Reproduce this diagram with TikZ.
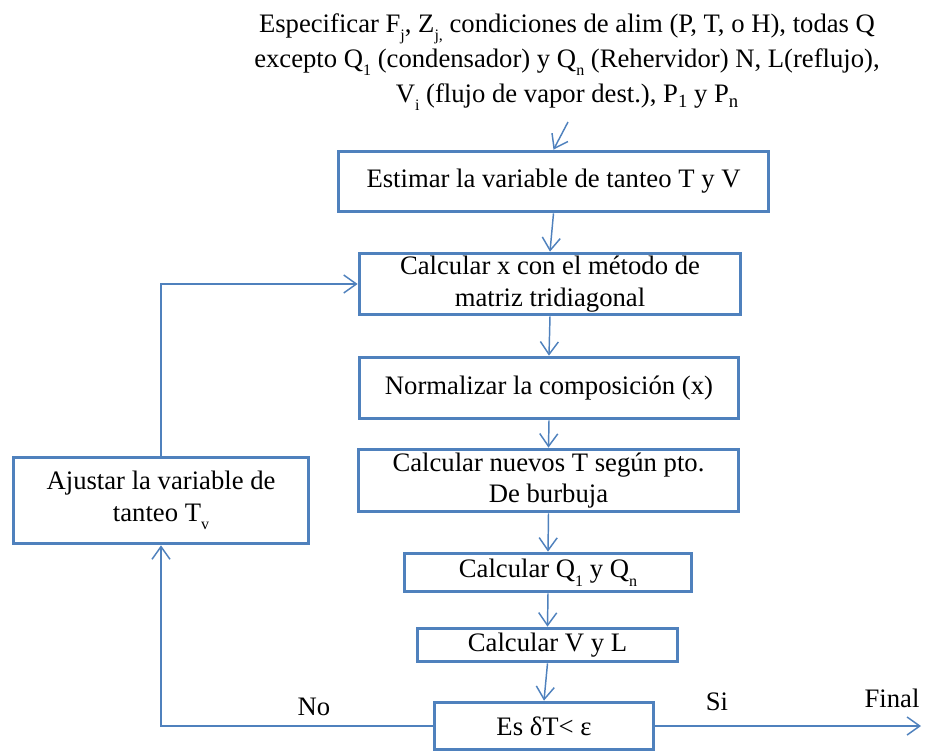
\documentclass[tikz,border=0pt]{standalone}
\usepackage{fontspec}
\setmainfont{Liberation Serif}
\usetikzlibrary{arrows.meta}
\definecolor{boxblue}{HTML}{4F81BD}
% lowered subscripts as set by the word processor
\newcommand{\lsub}[1]{\raisebox{-0.32em}{\fontsize{12}{12}\selectfont #1}}
\newcommand{\psub}[1]{\raisebox{-0.2em}{\fontsize{14}{14}\selectfont #1}}

\begin{document}
\begin{tikzpicture}[x=0.75pt,y=-0.75pt,
  stepbox/.style={draw=boxblue,line width=2.8pt,align=center,
    font=\fontsize{20}{23.5}\selectfont,inner sep=0pt},
  arr/.style={draw=boxblue,line width=1.1pt,
    -{Straight Barb[length=9.5pt,width=13.5pt,line width=1.1pt]}},
  lbl/.style={font=\fontsize{20}{24}\selectfont,inner sep=0pt}]
\useasboundingbox (0,0) rectangle (929,754);

% specification text at the top (base anchor = baseline of its last line)
\node[lbl,align=center,font=\fontsize{20}{26.25}\selectfont,anchor=base] (spec) at (567,102)
  {Especificar F\lsub{j}, Z\lsub{j,} condiciones de alim (P, T, o H), todas Q\\
   excepto Q\lsub{1} (condensador) y Q\lsub{n} (Rehervidor) N, L(reflujo),\\
   V\lsub{i} (flujo de vapor dest.), P\psub{1} y P\psub{n}};
\coordinate (start) at (568,122);

% main column of steps
\node[stepbox,minimum width=322.5pt,minimum height=45pt] (b1) at (553.5,181.5)
  {Estimar la variable de tanteo T y V};
\node[stepbox,minimum width=285.75pt,minimum height=45.75pt] (b2) at (550,284)
  {Calcular x con el método de\\matriz tridiagonal};
\node[stepbox,minimum width=284.25pt,minimum height=45.75pt] (b3) at (549,388)
  {Normalizar la composición (x)};
\node[stepbox,minimum width=285pt,minimum height=46.5pt] (b4) at (548.5,480.5)
  {Calcular nuevos T según pto.\\De burbuja};
\node[stepbox,minimum width=215.25pt,minimum height=28.5pt] (b5) at (548,572.5)
  {Calcular Q\lsub{1} y Q\lsub{n}};
\node[stepbox,minimum width=195pt,minimum height=24.75pt] (b6) at (547.5,645)
  {Calcular V y L};
\node[stepbox,minimum width=164.25pt,minimum height=35.25pt] (b7) at (544,726)
  {Es δT< ε};

% correction step on the left
\node[stepbox,minimum width=221.25pt,minimum height=64.5pt] (adj) at (161,500.5)
  {Ajustar la variable de\\tanteo T\lsub{v}};

% branch labels and end point
\node[lbl] (no) at (314,707) {No};
\node[lbl] (si) at (717,702) {Si};
\node[lbl] (final) at (892,698) {Final};
\coordinate (fin) at (921,726);

% connectors
\draw[arr] (start) -- (b1.north);
\draw[arr] (b1.south) -- (b2.north);
\draw[arr] (b2.south) -- (b3.north);
\draw[arr] (b3.south) -- (b4.north);
\draw[arr] (b4.south) -- (b5.north);
\draw[arr] (b5.south) -- (b6.north);
\draw[arr] (b6.south) -- (b7.north);
\draw[arr] (b7.west) -| (adj.south);
\draw[arr] (adj.north) |- (b2.west);
\draw[arr] (b7.east) -- (fin);
\end{tikzpicture}
\end{document}
